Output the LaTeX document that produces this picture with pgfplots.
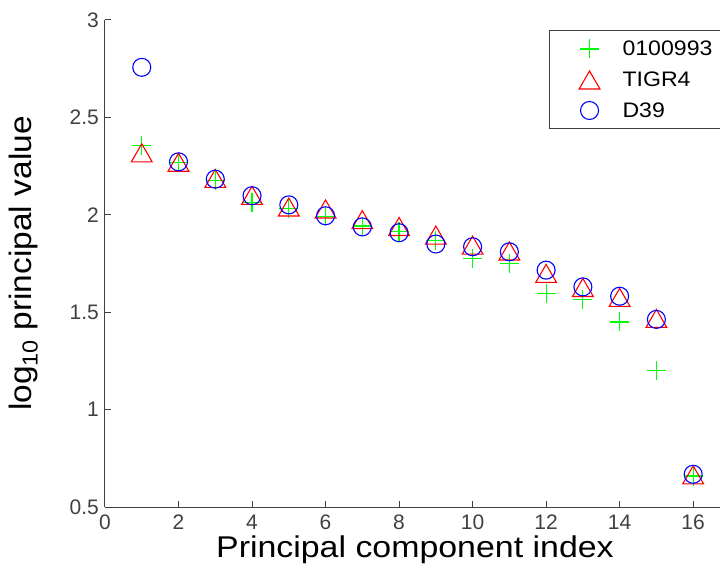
\documentclass[border=0pt]{standalone}
\usepackage{fontspec}
\setmainfont{Liberation Sans}
\usepackage{pgfplots}
\pgfplotsset{compat=1.18}
\definecolor{axgray}{RGB}{64,64,64}
\begin{document}
\begin{tikzpicture}
\begin{axis}[
  name=ax,
  scale only axis,
  width=615bp, height=487bp,
  xmin=0, xmax=16.73, ymin=0.5, ymax=3,
  axis x line*=bottom, axis y line*=left,
  axis line style={axgray, line width=1bp},
  xtick={0,2,...,16}, ytick={0.5,1,1.5,2,2.5,3},
  tick align=inside, major tick length=6bp,
  tick style={axgray, line width=1bp},
  /pgf/number format/assume math mode=true,
  ticklabel style={font=\fontsize{21bp}{24bp}\selectfont, text=axgray},
  xticklabel style={inner sep=0pt, anchor=north, yshift=-8bp},
  yticklabel style={inner sep=0pt, anchor=east, xshift=-6bp},
  xlabel={\scalebox{1.13}[1]{Principal component index}},
  ylabel={\scalebox{1.08}[1]{log\textsubscript{10} principal value}},
  label style={font=\fontsize{31bp}{36bp}\selectfont},
  xlabel style={at={(axis description cs:0.504,-0.1047)}, anchor=base, inner sep=0pt, font=\fontsize{30bp}{36bp}\selectfont},
  ylabel style={at={(axis description cs:-0.1203,0.5)}, anchor=base, inner sep=0pt},
  legend cell align=left,
  legend style={at={(0.722,0.9795)}, anchor=north west, draw=axgray, line width=1bp,
    inner xsep=20bp, inner ysep=9bp, row sep=12.5bp, column sep=21bp,
    font=\fontsize{21bp}{24bp}\selectfont, nodes={inner sep=0pt}},
  legend image code/.code={\path[draw=none,fill=none] (0bp,-9bp) rectangle (32bp,9bp); \draw[#1] plot coordinates {(20bp,0bp)};},
]
\addplot[only marks, mark=+, color={rgb,255:red,0;green,255;blue,0}, mark size=9.5bp, line width=1.2bp]
  coordinates {(1,2.354)(2,2.269)(3,2.178)(4,2.065)(5,2.034)(6,1.993)(7,1.942)(8,1.913)
  (9,1.867)(10,1.776)(11,1.750)(12,1.598)(13,1.567)(14,1.450)(15,1.199)(16,0.659)};
\addlegendentry{\scalebox{1.1}[1]{0100993}}
\addplot[only marks, mark=triangle, color={rgb,255:red,255;green,0;blue,0}, mark size=12bp, line width=1.1bp, mark options={yshift=-3bp}]
  coordinates {(1,2.318)(2,2.270)(3,2.187)(4,2.100)(5,2.040)(6,2.030)(7,1.975)(8,1.940)
  (9,1.896)(10,1.844)(11,1.814)(12,1.699)(13,1.627)(14,1.576)(15,1.468)(16,0.665)};
\addlegendentry{\scalebox{1.1}[1]{TIGR4}}
\addplot[only marks, mark=o, color={rgb,255:red,0;green,0;blue,255}, mark size=9bp, line width=1.1bp]
  coordinates {(1,2.757)(2,2.272)(3,2.183)(4,2.098)(5,2.051)(6,1.995)(7,1.938)(8,1.908)
  (9,1.850)(10,1.836)(11,1.810)(12,1.716)(13,1.630)(14,1.582)(15,1.463)(16,0.668)};
\addlegendentry{\scalebox{1.1}[1]{D39}}
\end{axis}
\pgfresetboundingbox
\path[use as bounding box] ([xshift=-105bp,yshift=-67bp]ax.south west) rectangle ([yshift=20bp]ax.north east);
\end{tikzpicture}
\end{document}
